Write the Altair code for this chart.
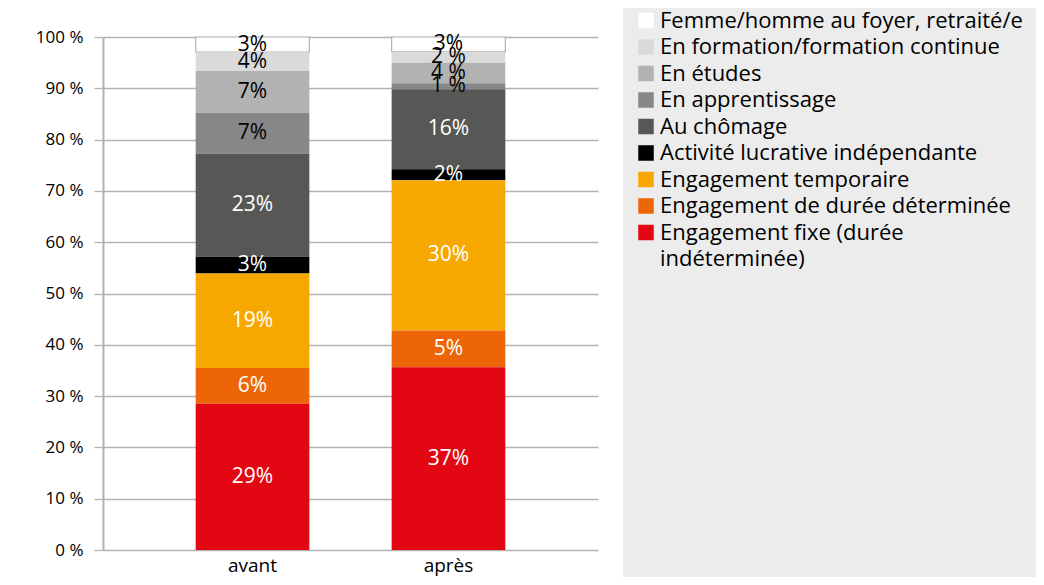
import altair as alt
import pandas as pd

periods = ["avant", "après"]
categories = [
    "Femme/homme au foyer, retraité/e",
    "En formation/formation continue",
    "En études",
    "En apprentissage",
    "Au chômage",
    "Activité lucrative indépendante",
    "Engagement temporaire",
    "Engagement de durée déterminée",
    "Engagement fixe (durée indéterminée)",
]
colors = ["#ffffff", "#dadada", "#b2b2b2", "#878787", "#575756",
          "#000000", "#f6a800", "#ec6608", "#e30613"]
avant_values = [2.95, 3.7, 8.1, 8.0, 20.1, 3.25, 18.4, 7.0, 28.5]
apres_values = [2.9, 2.1, 4.0, 1.2, 15.6, 2.1, 29.3, 7.2, 35.6]
avant_labels = ["3%", "4%", "7%", "7%", "23%", "3%", "19%", "6%", "29%"]
apres_labels = ["3%", "2 %", "4 %", "1 %", "16%", "2%", "30%", "5%", "37%"]
dark_label = [True, True, True, True, False, False, False, False, False]
y_ticks = [0, 10, 20, 30, 40, 50, 60, 70, 80, 90, 100]

FONT = "Open Sans"

rows = []
for p, vals, labs in [("avant", avant_values, avant_labels), ("après", apres_values, apres_labels)]:
    n = len(categories)
    for i, (c, v, l) in enumerate(zip(categories, vals, labs)):
        rows.append({"period": p, "category": c, "value": v, "label": l,
                     "order": n - 1 - i, "dark": dark_label[i]})
df = pd.DataFrame(rows)

base = alt.Chart(df).transform_stack(
    stack="value", groupby=["period"], as_=["v0", "v1"],
    sort=[alt.SortField("order", order="ascending")]
).transform_calculate(mid="(datum.v0 + datum.v1) / 2")

x_enc = alt.X("period:N", sort=periods,
              scale=alt.Scale(paddingInner=0.42, paddingOuter=0.473),
              axis=alt.Axis(title=None, labelAngle=0, domain=False, ticks=False,
                            labelFont=FONT, labelFontSize=19, labelColor="#000000",
                            labelPadding=6))

bars = base.mark_bar().encode(
    x=x_enc,
    y=alt.Y("v0:Q", scale=alt.Scale(domain=[0, 100], nice=False),
            axis=alt.Axis(title=None, values=y_ticks, labelExpr="datum.value + ' %'",
                          tickSize=9, labelPadding=11, grid=True,
                          gridColor="#b2b2b2", gridWidth=1.3,
                          tickColor="#b2b2b2", tickWidth=1.3,
                          domainColor="#b2b2b2", domainWidth=2,
                          labelFont=FONT, labelFontSize=17, labelColor="#000000")),
    y2="v1:Q",
    color=alt.Color("category:N", scale=alt.Scale(domain=categories, range=colors),
                    legend=alt.Legend(title=None, orient="none", legendX=532, legendY=-27.5,
                                      symbolType="square", symbolSize=240,
                                      symbolStrokeWidth=0, labelFont=FONT,
                                      labelFontSize=22, labelColor="#000000",
                                      labelLimit=0, labelOffset=3, rowPadding=4.5,
                                      padding=0,
                                      labelExpr="datum.label == 'Engagement fixe (durée indéterminée)' ? ['Engagement fixe (durée', 'indéterminée)'] : datum.label")),
    stroke=alt.value("#b2b2b2"),
    strokeWidth=alt.condition(alt.datum.order == 8, alt.value(1.2), alt.value(0)),
)

labels_dark = base.transform_filter(alt.datum.dark).mark_text(
    font=FONT, fontSize=21, color="#000000", baseline="middle", align="center"
).encode(x=alt.X("period:N", sort=periods), y="mid:Q", text="label:N")

labels_light = base.transform_filter("!datum.dark").mark_text(
    font=FONT, fontSize=21, color="#ffffff", baseline="middle", align="center"
).encode(x=alt.X("period:N", sort=periods), y="mid:Q", text="label:N")

panel = alt.Chart(pd.DataFrame({"a": [0]})).mark_rect(color="#ececec").encode(
    x=alt.value(520), x2=alt.value(933), y=alt.value(-29), y2=alt.value(540)
)

chart = alt.layer(panel, bars, labels_dark, labels_light).properties(
    width=495, height=513,
    autosize=alt.AutoSizeParams(type="none"),
    padding={"left": 95, "top": 29, "right": 438, "bottom": 27},
    background="#ffffff",
).configure(style={"guide-label": {"lineHeight": 26}}).configure_view(stroke=None)

chart.save("out.html", embed_options={"renderer": "svg", "actions": False})
